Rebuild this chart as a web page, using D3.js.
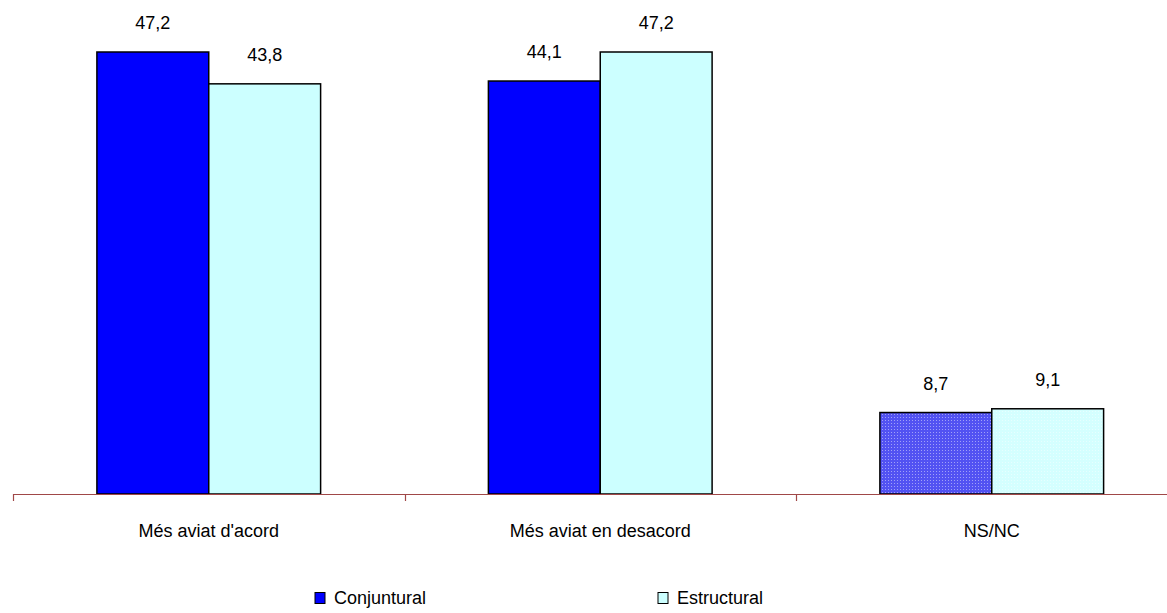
<!DOCTYPE html>
<html><head><meta charset="utf-8">
<script src="https://cdn.jsdelivr.net/npm/d3@7"></script>
<style>body{margin:0;background:#fff}svg{display:block}text{font-family:"Liberation Sans",Arial,sans-serif}</style>
</head><body><svg id="c" width="1167" height="613"></svg>
<script>
const categories = ["Més aviat d'acord", "Més aviat en desacord", "NS/NC"];
const seriesNames = ["Conjuntural", "Estructural"];
const conjuntural = [47.2, 44.1, 8.7];
const estructural = [43.8, 47.2, 9.1];
const seriesColors = ["#0000FF", "#CCFFFF"];
const patternColors = ["#5252f2", "#d4ffff"];

const svg = d3.select("#c");
const defs = svg.append("defs");
const p = defs.append("pattern").attr("id", "dots").attr("patternUnits", "userSpaceOnUse")
  .attr("width", 3).attr("height", 3);
p.append("rect").attr("width", 1).attr("height", 1).attr("fill", "#ffffff").attr("opacity", 0.45);

const x0 = 13, catW = 391.5;
const x = d3.scaleBand().domain(categories).range([x0, x0 + catW * 3]).paddingInner(0).paddingOuter(0);
const y = d3.scaleLinear().domain([0, 47.2]).range([494, 52]);
const barW = catW / 3.5;
const fs = 18;

const data = categories.map((c, i) => ({c, vals: [conjuntural[i], estructural[i]]}));

const g = svg.append("g");
data.forEach((d, i) => {
  d.vals.forEach((v, s) => {
    const cx = x(d.c) + x.bandwidth() / 2;
    const bx = cx - barW + s * barW;
    const fill = i === 2 ? patternColors[s] : seriesColors[s];
    g.append("rect").attr("x", bx).attr("y", y(v)).attr("width", barW).attr("height", y(0) - y(v))
      .attr("fill", fill);
    if (i === 2) {
      g.append("rect").attr("x", bx).attr("y", y(v)).attr("width", barW).attr("height", y(0) - y(v))
        .attr("fill", "url(#dots)");
    }
    g.append("rect").attr("x", bx).attr("y", y(v)).attr("width", barW).attr("height", y(0) - y(v))
      .attr("fill", "none").attr("stroke", "#000").attr("stroke-width", 1.5);
    g.append("text").attr("x", bx + barW / 2).attr("y", y(v) - 23).attr("text-anchor", "middle")
      .attr("font-size", fs).attr("fill", "#000").text(String(v).replace(".", ","));
  });
});

// axis
const axisColor = "#a04848";
svg.append("line").attr("x1", x0).attr("x2", 1167).attr("y1", y(0) + 0.5).attr("y2", y(0) + 0.5)
  .attr("stroke", axisColor).attr("stroke-width", 1.2);
categories.forEach((c, i) => {
  const tx = Math.round(x(c)) + 0.5;
  svg.append("line").attr("x1", tx).attr("x2", tx).attr("y1", y(0)).attr("y2", y(0) + 7)
    .attr("stroke", axisColor).attr("stroke-width", 1.2);
  svg.append("text").attr("x", x(c) + x.bandwidth() / 2).attr("y", 537).attr("text-anchor", "middle")
    .attr("font-size", fs).attr("fill", "#000").text(c);
});

// legend
const legX = [315, 658];
seriesNames.forEach((n, s) => {
  svg.append("rect").attr("x", legX[s]).attr("y", 592.5).attr("width", 10).attr("height", 11)
    .attr("fill", seriesColors[s]).attr("stroke", "#000").attr("stroke-width", 1);
  svg.append("text").attr("x", legX[s] + 19).attr("y", 604).attr("font-size", fs).attr("fill", "#000").text(n);
});
</script></body></html>
